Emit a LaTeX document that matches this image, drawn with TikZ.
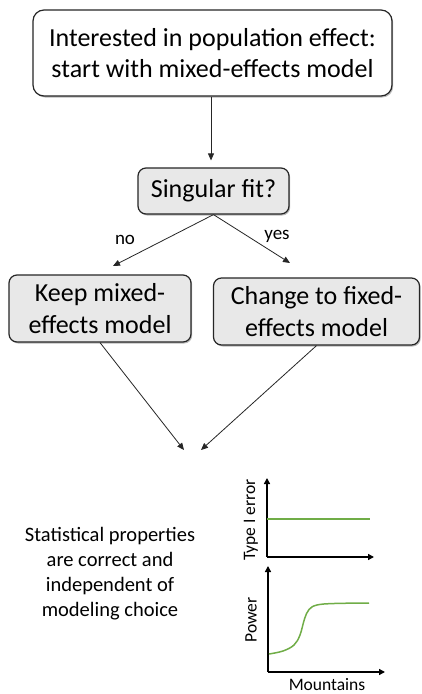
\documentclass[tikz,border=0pt]{standalone}
\usepackage{fontspec}
\setmainfont{Carlito}
\usetikzlibrary{arrows.meta,shadows}
\definecolor{boxgray}{HTML}{E8E8E8}
\definecolor{curvegreen}{HTML}{70AD47}
\tikzset{
  flowbox/.style={draw=black!85, line width=1.2pt, rounded corners=11pt, align=center,
    font=\fontsize{26}{31.5}\selectfont, inner sep=0pt,
    drop shadow={shadow xshift=1.2pt, shadow yshift=-1.5pt, fill=black!45, opacity=0.6}},
  graybox/.style={flowbox, fill=boxgray, rounded corners=8pt},
  flowarrow/.style={draw=black!85, line width=0.8pt, -{Triangle[length=7pt,width=6pt]}},
  axisarrow/.style={draw=black, line width=1.4pt, -{Triangle[length=6pt,width=6pt]}},
  smalllabel/.style={font=\fontsize{19}{22}\selectfont, inner sep=0pt},
  axislabel/.style={font=\fontsize{17.5}{20}\selectfont, inner sep=0pt},
  curve/.style={draw=curvegreen, line width=1.5pt}
}
\begin{document}
\begin{tikzpicture}[x=1pt,y=-1pt]
\useasboundingbox (0,0) rectangle (421,694);
\fill[white] (0,0) rectangle (421,694);

\node[flowbox, fill=white, minimum width=359pt, minimum height=86pt] (top) at (212.5,53)
  {Interested in population effect:\\start with mixed-effects model};
\node[graybox, minimum width=151pt, minimum height=46pt] (sing) at (213.5,191) {Singular fit?};
\node[graybox, minimum width=182pt, minimum height=67pt] (keep) at (100,308.5) {Keep mixed-\\effects model};
\node[graybox, minimum width=206pt, minimum height=67pt] (change) at (316.5,311.5) {Change to fixed-\\effects model};

\coordinate (noEnd) at (113,266);
\coordinate (yesEnd) at (290,263);
\coordinate (leftEnd) at (184,450);
\coordinate (rightEnd) at (201,450);

\draw[flowarrow, shorten >=7pt] (top.south -| 211,0) -- (sing.north -| 211,0);
\draw[flowarrow] (sing.south) -- (noEnd);
\draw[flowarrow] (sing.south) -- (yesEnd);
\node[smalllabel] (no) at (125,240) {no};
\node[smalllabel] (yes) at (277,236) {yes};

\draw[flowarrow] (keep.south) -- (leftEnd);
\draw[flowarrow] (change.south) -- (rightEnd);

\node[align=center, font=\fontsize{20.5}{25}\selectfont, inner sep=0pt] (stat) at (110,574)
  {Statistical properties\\are correct and\\independent of\\modeling choice};

% top graph
\coordinate (o1) at (267,557);
\draw[axisarrow] (o1) -- (267,478);
\draw[axisarrow] (o1) -- (374,557);
\draw[curve] (267,519) -- (370,519);
\node[axislabel, rotate=90] (t1) at (251,520) {Type I error};

% bottom graph
\coordinate (o2) at (268,672);
\draw[axisarrow] (o2) -- (268,566);
\draw[axisarrow] (o2) -- (385,672);
\draw[curve] plot[smooth, tension=0.6] coordinates {(269,654) (283,651) (294,645) (300,635) (304.5,619) (309,609.5) (317,605) (334,603.5) (369,603)};
\node[axislabel, rotate=90] (t2) at (251,620) {Power};
\node[axislabel] (t3) at (327,684.5) {Mountains};
\end{tikzpicture}
\end{document}
